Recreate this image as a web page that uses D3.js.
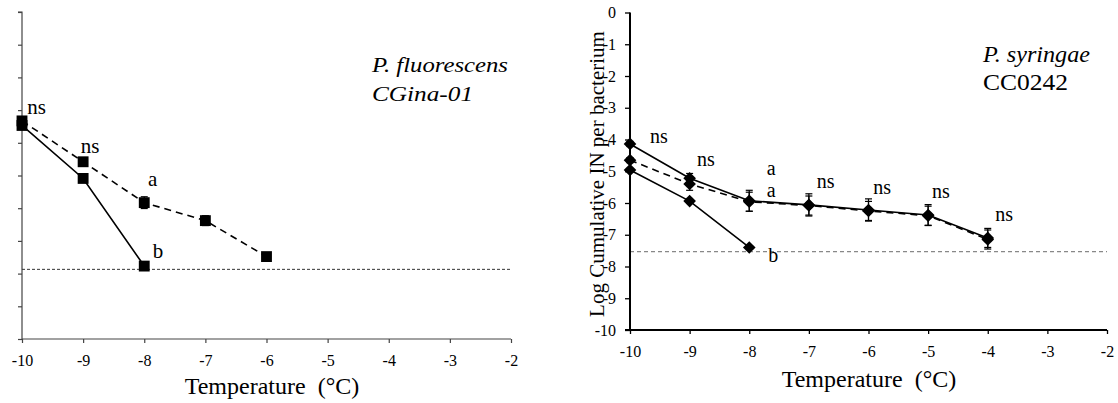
<!DOCTYPE html>
<html><head><meta charset="utf-8">
<script src="https://cdn.jsdelivr.net/npm/d3@7"></script>
<style>
html,body{margin:0;padding:0;background:#fff;}
svg{display:block;}
svg text{font-family:"Liberation Serif","Times New Roman","DejaVu Serif",serif !important;}
</style></head>
<body>
<svg id="chart" width="1118" height="403"></svg>
<script>
// ---- data ----
const xTicks = [-10,-9,-8,-7,-6,-5,-4,-3,-2];
const yTicks = [0,-1,-2,-3,-4,-5,-6,-7,-8,-9,-10];

// Left panel: P. fluorescens CGina-01
const pfDashTemps = [-10,-9,-8,-7,-6];
const pfDashVals  = [-3.33,-4.58,-5.83,-6.38,-7.48];
const pfDashErr   = [0.05,0.05,0.18,0.15,0.1];
const pfSolidTemps = [-10,-9,-8];
const pfSolidVals  = [-3.47,-5.09,-7.77];
const pfSolidErr   = [0.05,0.05,0.05];
const pfLimit = -7.87;
const pfLabels = [
  {t:-9.913, v:-2.94, s:"ns"},
  {t:-9.04,  v:-4.12, s:"ns"},
  {t:-7.94,  v:-5.14, s:"a"},
  {t:-7.86,  v:-7.33, s:"b"}
];

// Right panel: P. syringae CC0242
const psTemps = [-10,-9,-8,-7,-6,-5,-4];
const psAVals = [-4.14,-5.22,-5.93,-6.06,-6.22,-6.38,-7.10];
const psAErr  = [0.08,0.15,0.33,0.35,0.35,0.33,0.30];
const psBVals = [-4.65,-5.40,-5.96,-6.08,-6.25,-6.40,-7.15];
const psBErr  = [0.08,0.20,0.30,0.30,0.30,0.30,0.30];
const psCTemps = [-10,-9,-8];
const psCVals  = [-4.96,-5.94,-7.40];
const psCErr   = [0.05,0.05,0.05];
const psLimit = -7.53;
const psLabels = [
  {t:-9.664, v:-3.91, s:"ns"},
  {t:-8.876, v:-4.65, s:"ns"},
  {t:-7.706, v:-4.94, s:"a"},
  {t:-7.706, v:-5.62, s:"a"},
  {t:-6.867, v:-5.33, s:"ns"},
  {t:-5.922, v:-5.53, s:"ns"},
  {t:-4.937, v:-5.64, s:"ns"},
  {t:-3.875, v:-6.38, s:"ns"},
  {t:-7.68,  v:-7.67, s:"b"}
];

const svg = d3.select("#chart");
const fmt = d => String(d);

function zip(ts, vs, es){ return ts.map((t,i)=>({t, v:vs[i], e:es[i]})); }

function drawSeries(g, x, y, data, dashed, shape){
  const line = d3.line().x(d=>x(d.t)).y(d=>y(d.v));
  g.append("path").datum(data).attr("d", line)
    .attr("fill","none").attr("stroke","#000").attr("stroke-width",1.6)
    .attr("stroke-dasharray", dashed ? "7,5" : null);
  const eb = g.append("g");
  data.forEach(d=>{
    if (d.e <= 0.06) return;
    eb.append("line").attr("x1",x(d.t)).attr("x2",x(d.t))
      .attr("y1",y(d.v+d.e)).attr("y2",y(d.v-d.e)).attr("stroke","#000").attr("stroke-width",1.2);
    [d.v+d.e, d.v-d.e].forEach(val=>{
      eb.append("line").attr("x1",x(d.t)-3.5).attr("x2",x(d.t)+3.5)
        .attr("y1",y(val)).attr("y2",y(val)).attr("stroke","#000").attr("stroke-width",1.2);
    });
  });
  const sym = shape === "square" ? d3.symbol().type(d3.symbolSquare).size(118)
                                 : d3.symbol().type(d3.symbolSquare).size(80);
  g.selectAll(null).data(data).enter().append("path")
    .attr("d", sym)
    .attr("transform", d=>`translate(${x(d.t)},${y(d.v)})` + (shape==="diamond" ? " rotate(45)" : ""))
    .attr("fill","#000");
}

// ---------------- LEFT PANEL ----------------
{
  const x = d3.scaleLinear().domain([-10,-2]).range([22,511]);
  const y = d3.scaleLinear().domain([-10,0]).range([339,12]);
  const g = svg.append("g");

  const yAx = g.append("g").attr("transform",`translate(${x(-10)},0)`)
    .call(d3.axisLeft(y).tickValues(yTicks).tickSize(4).tickFormat(""));
  yAx.selectAll("path,line").attr("stroke","#444").attr("stroke-width",1.2);
  yAx.select(".domain").attr("d",`M-4,${y(0)}H0V${y(-10)}`);

  const xAx = g.append("g").attr("transform",`translate(0,${y(-10)})`)
    .call(d3.axisBottom(x).tickValues(xTicks).tickSize(4).tickPadding(12).tickFormat(fmt));
  xAx.selectAll("path,line").attr("stroke","#444").attr("stroke-width",1.2);
  xAx.select(".domain").attr("d",`M${x(-10)},0H${x(-2)}`);
  xAx.selectAll("text").attr("font-size",16).attr("fill","#000");

  g.append("line").attr("x1",x(-10)).attr("x2",x(-2)).attr("y1",y(pfLimit)).attr("y2",y(pfLimit))
    .attr("stroke","#333").attr("stroke-width",1).attr("stroke-dasharray","3,2");

  drawSeries(g, x, y, zip(pfDashTemps,pfDashVals,pfDashErr), true, "square");
  drawSeries(g, x, y, zip(pfSolidTemps,pfSolidVals,pfSolidErr), false, "square");

  g.selectAll(null).data(pfLabels).enter().append("text")
    .attr("x",d=>x(d.t)).attr("y",d=>y(d.v)).attr("dy","0.3em")
    .attr("font-size",21).text(d=>d.s);

  g.append("text").attr("x",372).attr("y",72).attr("font-size",22).attr("font-style","italic")
    .attr("textLength",136).attr("lengthAdjust","spacingAndGlyphs").text("P. fluorescens");
  g.append("text").attr("x",372).attr("y",101).attr("font-size",22).attr("font-style","italic")
    .attr("textLength",101).attr("lengthAdjust","spacingAndGlyphs").text("CGina-01");

  g.append("text").attr("x",272).attr("y",394).attr("text-anchor","middle").attr("font-size",24)
    .attr("xml:space","preserve").text("Temperature  (°C)");
}

// ---------------- RIGHT PANEL ----------------
{
  const x = d3.scaleLinear().domain([-10,-2]).range([630,1107]);
  const y = d3.scaleLinear().domain([-10,0]).range([330,12.5]);
  const g = svg.append("g");

  g.append("line").attr("x1",x(-10)).attr("x2",x(-2)).attr("y1",y(psLimit)).attr("y2",y(psLimit))
    .attr("stroke","#888").attr("stroke-width",1.2).attr("stroke-dasharray","4,3");

  const yAx = g.append("g").attr("transform",`translate(${x(-10)},0)`)
    .call(d3.axisLeft(y).tickValues(yTicks).tickSize(5).tickPadding(9).tickFormat(fmt));
  yAx.selectAll("line").attr("stroke","#000").attr("stroke-width",1.3);
  yAx.select(".domain").attr("stroke","#000").attr("stroke-width",2).attr("d",`M0,${y(0)}V${y(-10)}`);
  yAx.selectAll("text").attr("font-size",16).attr("fill","#000");

  const xAx = g.append("g").attr("transform",`translate(0,${y(-10)})`)
    .call(d3.axisBottom(x).tickValues(xTicks).tickSize(4).tickPadding(12).tickFormat(fmt));
  xAx.selectAll("line").attr("stroke","#000").attr("stroke-width",1.3);
  xAx.select(".domain").attr("stroke","#000").attr("stroke-width",2).attr("d",`M${x(-10)-5},0H${x(-2)}`);
  xAx.selectAll("text").attr("font-size",16).attr("fill","#000");

  drawSeries(g, x, y, zip(psTemps,psBVals,psBErr), true, "diamond");
  drawSeries(g, x, y, zip(psTemps,psAVals,psAErr), false, "diamond");
  drawSeries(g, x, y, zip(psCTemps,psCVals,psCErr), false, "diamond");

  g.selectAll(null).data(psLabels).enter().append("text")
    .attr("x",d=>x(d.t)).attr("y",d=>y(d.v)).attr("dy","0.3em")
    .attr("font-size",20).text(d=>d.s);

  g.append("text").attr("x",983).attr("y",62).attr("font-size",23).attr("font-style","italic")
    .attr("textLength",107).attr("lengthAdjust","spacingAndGlyphs").text("P. syringae");
  g.append("text").attr("x",983).attr("y",90).attr("font-size",23)
    .attr("textLength",85).attr("lengthAdjust","spacingAndGlyphs").text("CC0242");

  g.append("text").attr("x",869).attr("y",387).attr("text-anchor","middle").attr("font-size",24)
    .attr("xml:space","preserve").text("Temperature  (°C)");

  g.append("text").attr("transform",`translate(604,${174}) rotate(-90)`).attr("text-anchor","middle")
    .attr("font-size",21).text("Log Cumulative IN per bacterium");
}
</script>
</body></html>
